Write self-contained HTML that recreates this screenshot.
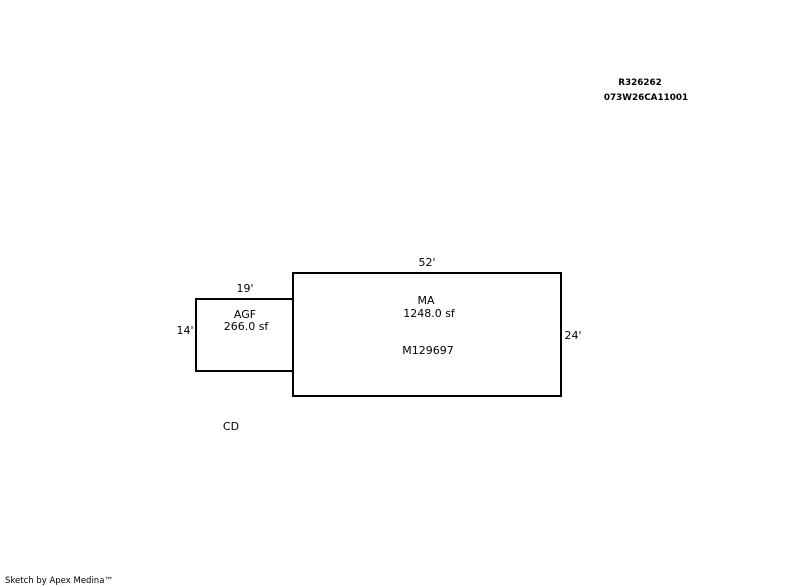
<!DOCTYPE html>
<html><head><style>
body{margin:0;background:#fff;}
svg{display:block;}
text{font-family:"DejaVu Sans","Liberation Sans",sans-serif;font-size:11px;fill:#000;}
</style></head><body>
<svg width="800" height="587" xmlns="http://www.w3.org/2000/svg">
<rect x="293" y="273" width="268" height="123" fill="none" stroke="#000" stroke-width="2"/>
<polyline points="293,299 196,299 196,371 293,371" fill="none" stroke="#000" stroke-width="2"/>
<text x="427" y="266" text-anchor="middle">52'</text>
<text x="245" y="292" text-anchor="middle">19'</text>
<text x="185" y="334" text-anchor="middle">14'</text>
<text x="573" y="339" text-anchor="middle">24'</text>
<text x="245" y="318" text-anchor="middle">AGF</text>
<text x="246" y="330" text-anchor="middle">266.0 sf</text>
<text x="426" y="304" text-anchor="middle">MA</text>
<text x="429" y="317" text-anchor="middle">1248.0 sf</text>
<text x="428" y="354" text-anchor="middle">M129697</text>
<text x="231" y="430" text-anchor="middle">CD</text>
<text x="640" y="85" text-anchor="middle" style="font-weight:bold;font-size:8.8px">R326262</text>
<text x="646" y="100" text-anchor="middle" style="font-weight:bold;font-size:8.8px">073W26CA11001</text>
<text x="5" y="583" style="font-size:8.5px">Sketch by Apex Medina™</text>
</svg>
</body></html>
